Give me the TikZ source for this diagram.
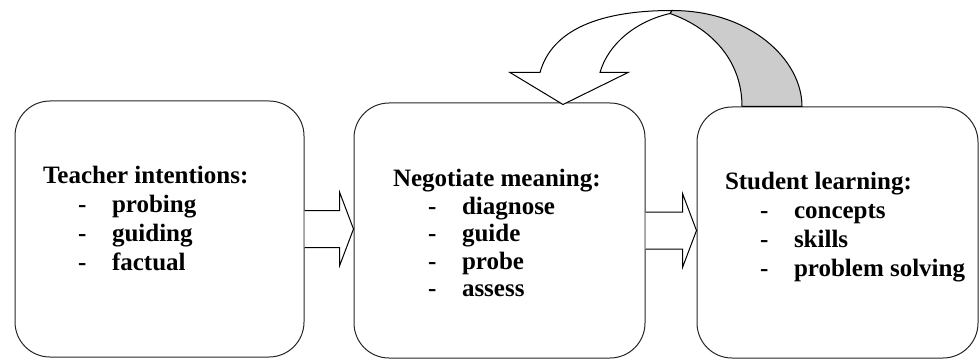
\documentclass[tikz,border=0pt]{standalone}
\usepackage{fontspec}
\setmainfont{Liberation Serif}
\usetikzlibrary{calc}
\newcommand{\listitem}[1]{\hspace*{35pt}\makebox[34pt][l]{-}#1}

\begin{document}
\begin{tikzpicture}[x=1pt,y=1pt,line width=1pt,
    stagebox/.style={draw=black!85,rounded corners=35pt,inner sep=0pt},
    stagetext/.style={align=left,inner sep=0pt,anchor=base west,font=\bfseries\fontsize{25}{29}\selectfont}]
            \useasboundingbox (0,0) rectangle (979,362);
            \node[stagebox,minimum width=289pt,minimum height=256pt] (teacher) at (159.5,133) {};
            \node[stagebox,minimum width=291pt,minimum height=255pt] (meaning) at (499.5,131.5) {};
            \node[stagebox,minimum width=281pt,minimum height=251pt] (learning) at (837.5,129.5) {};
            \node[stagetext] (teacherlist) at ($(teacher.north west)+(28,-170)$)
                {Teacher intentions:\\ \listitem{probing}\\ \listitem{guiding}\\ \listitem{factual}};
            \node[stagetext,font=\bfseries\fontsize{25}{27.5}\selectfont] (meaninglist) at ($(meaning.north west)+(39,-194)$)
                {Negotiate meaning:\\ \listitem{diagnose}\\ \listitem{guide}\\ \listitem{probe}\\ \listitem{assess}};
            \node[stagetext] (learninglist) at ($(learning.north west)+(28,-170)$)
                {Student learning:\\ \listitem{concepts}\\ \listitem{skills}\\ \listitem{problem solving}};
            \draw[fill=white] let \p1=(teacher.east), \p2=(meaning.west) in
                (\x1,\y1+18.5) -- (\x2-14,\y1+18.5) -- (\x2-14,\y1+37) -- (\x2,\y1)
                -- (\x2-14,\y1-37) -- (\x2-14,\y1-18.5) -- (\x1,\y1-18.5);
            \draw[fill=white] let \p1=(meaning.east), \p2=(learning.west) in
                (\x1,\y1+18.5) -- (\x2-14,\y1+18.5) -- (\x2-14,\y1+37) -- (\x2,\y1)
                -- (\x2-14,\y1-37) -- (\x2-14,\y1-18.5) -- (\x1,\y1-18.5);
            \coordinate (backtip) at ($(meaning.north)+(63.5,-2)$);
            \begin{scope}[shift={(backtip)}]
                \draw[fill=black!20] (107,91) .. controls (147,77) and (179,45) .. (179,-2)
                    -- (239,-2) .. controls (239,45) and (187,94) .. (109,94) -- cycle;
                \draw[fill=white] (0,0) -- (-53,32) -- (-23,32) .. controls (-11,75) and (37,94) .. (109,94)
                    -- (107,91) .. controls (72,83) and (45,60) .. (37,32) -- (65,32) -- cycle;
            \end{scope}
        \end{tikzpicture}
\end{document}
